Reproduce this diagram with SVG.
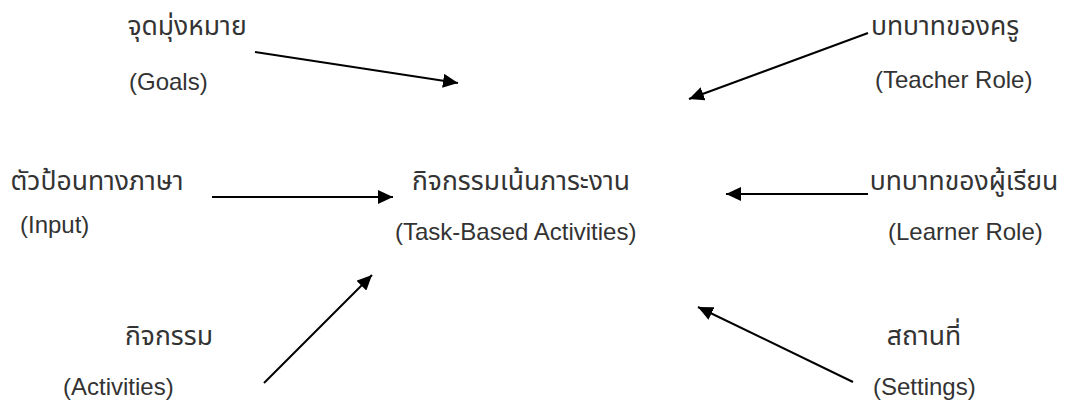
<svg xmlns="http://www.w3.org/2000/svg" width="1066" height="401" viewBox="0 0 1066 401">
<style>
  text { font-family: "Liberation Sans", "Noto Sans Thai", "Noto Sans", sans-serif; font-size: 24px; fill: #333; }
  .th { text-anchor: middle; font-size: 26.5px; }
  .conn line { stroke: #000; stroke-width: 2; fill: none; marker-end: url(#ah); }
</style>
<defs>
  <marker id="ah" viewBox="0 0 15 14" refX="15" refY="7" markerWidth="15" markerHeight="14" markerUnits="userSpaceOnUse" orient="auto">
    <path d="M0,0 L15,7 L0,14 z" fill="#000"/>
  </marker>
</defs>
<rect width="1066" height="401" fill="#fff"/>
<g id="goals">
  <text class="th" x="187" y="35">จุดมุ่งหมาย</text>
  <text x="129" y="90">(Goals)</text>
</g>
<g id="teacher">
  <text class="th" x="945" y="35">บทบาทของครู</text>
  <text x="875" y="88">(Teacher Role)</text>
</g>
<g id="input">
  <text class="th" x="97" y="190">ตัวป้อนทางภาษา</text>
  <text x="20" y="233">(Input)</text>
</g>
<g id="center">
  <text class="th" x="521" y="190">กิจกรรมเน้นภาระงาน</text>
  <text x="395" y="240">(Task-Based Activities)</text>
</g>
<g id="learner">
  <text class="th" x="964" y="190">บทบาทของผู้เรียน</text>
  <text x="888" y="240">(Learner Role)</text>
</g>
<g id="activities">
  <text class="th" x="169" y="345">กิจกรรม</text>
  <text x="63" y="395">(Activities)</text>
</g>
<g id="settings">
  <text class="th" x="924" y="345">สถานที่</text>
  <text x="873" y="395">(Settings)</text>
</g>
<g class="conn" id="connectors">
  <line x1="255" y1="52" x2="458" y2="83"/>
  <line x1="868" y1="33" x2="689" y2="99"/>
  <line x1="212" y1="197" x2="393" y2="197"/>
  <line x1="868" y1="194" x2="726" y2="194"/>
  <line x1="264" y1="383" x2="372" y2="275"/>
  <line x1="853" y1="382" x2="698" y2="307"/>
</g>
</svg>
